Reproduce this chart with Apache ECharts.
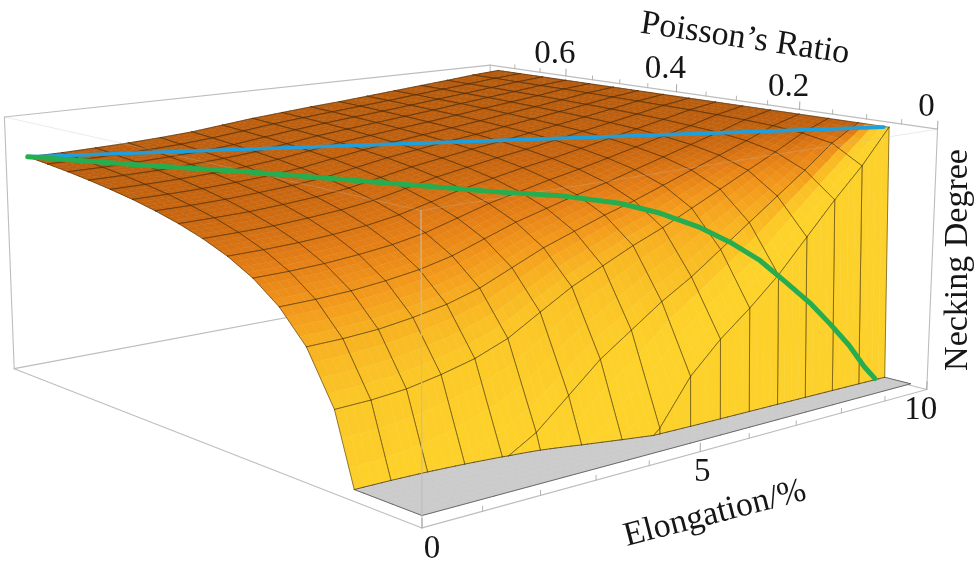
<!DOCTYPE html>
<html>
<head>
<meta charset="utf-8">
<title>Necking Degree surface</title>
<script src="https://cdn.jsdelivr.net/npm/echarts@6.0.0/dist/echarts.min.js"></script>
<style>
html,body{margin:0;padding:0;background:#ffffff;}
#chart{width:978px;height:566px;}
</style>
</head>
<body>
<div id="chart"></div>
<script>
// ---------------- data ----------------
const elongation = [0,0.6,1.2,1.8,2.4,3.0,3.6,4.2,4.8,5.4,6.0,6.6,7.2,7.8,8.4,9.0,9.6];
const poisson = [0,0.04375,0.0875,0.13125,0.175,0.21875,0.2625,0.30625,0.35,0.39375,0.4375,0.48125,0.525,0.56875,0.6125,0.65625,0.7];
// necking degree (axis units 0..1): one row per Poisson's ratio, one value per elongation
const neckingRow00 = [-5,-5,-5,-5,-5,-5,-5,-5,-5,-5,-5,-5,-5,-5,-5,-5,-5];
const neckingRow01 = [-1.1,-1.0,-0.9,-0.7,-0.5,-0.3,-0.15,-0.04,0.06,0.22,0.33,0.42,0.52,0.64,0.76,0.87,1.0];
const neckingRow02 = [-0.074,-0.069,-0.052,-0.017,0.029,0.097,0.200,0.303,0.383,0.463,0.531,0.611,0.691,0.771,0.851,0.937,1.0];
const neckingRow03 = [0.284,0.288,0.299,0.322,0.352,0.398,0.467,0.535,0.589,0.642,0.688,0.741,0.794,0.848,0.901,0.958,1.0];
const neckingRow04 = [0.463,0.466,0.474,0.491,0.514,0.549,0.600,0.651,0.691,0.731,0.766,0.806,0.846,0.886,0.926,0.969,1.0];
const neckingRow05 = [0.570,0.573,0.580,0.593,0.611,0.639,0.680,0.721,0.753,0.785,0.813,0.845,0.877,0.909,0.941,0.975,1.0];
const neckingRow06 = [0.642,0.644,0.650,0.661,0.676,0.699,0.733,0.768,0.794,0.821,0.844,0.870,0.897,0.924,0.950,0.979,1.0];
const neckingRow07 = [0.693,0.695,0.700,0.709,0.722,0.742,0.771,0.801,0.824,0.847,0.866,0.889,0.912,0.935,0.958,0.982,1.0];
const neckingRow08 = [0.731,0.733,0.737,0.746,0.757,0.774,0.800,0.826,0.846,0.866,0.883,0.903,0.923,0.943,0.963,0.984,1.0];
const neckingRow09 = [0.761,0.763,0.766,0.774,0.784,0.799,0.822,0.845,0.863,0.881,0.896,0.914,0.931,0.949,0.967,0.986,1.0];
const neckingRow10 = [0.785,0.786,0.790,0.797,0.806,0.819,0.840,0.861,0.877,0.893,0.906,0.922,0.938,0.954,0.970,0.987,1.0];
const neckingRow11 = [0.805,0.806,0.809,0.815,0.823,0.836,0.855,0.873,0.888,0.902,0.915,0.929,0.944,0.958,0.973,0.989,1.0];
const neckingRow12 = [0.821,0.822,0.825,0.830,0.838,0.850,0.867,0.884,0.897,0.910,0.922,0.935,0.949,0.962,0.975,0.990,1.0];
const neckingRow13 = [0.835,0.836,0.838,0.844,0.851,0.861,0.877,0.893,0.905,0.917,0.928,0.940,0.953,0.965,0.977,0.990,1.0];
const neckingRow14 = [0.847,0.847,0.850,0.855,0.861,0.871,0.886,0.900,0.912,0.923,0.933,0.944,0.956,0.967,0.979,0.991,1.0];
const neckingRow15 = [0.857,0.858,0.860,0.864,0.870,0.880,0.893,0.907,0.918,0.928,0.938,0.948,0.959,0.970,0.980,0.992,1.0];
const neckingRow16 = [0.866,0.866,0.869,0.873,0.879,0.887,0.900,0.913,0.923,0.933,0.941,0.951,0.961,0.971,0.981,0.992,1.0];
const necking = [neckingRow00,neckingRow01,neckingRow02,neckingRow03,neckingRow04,neckingRow05,neckingRow06,neckingRow07,
  neckingRow08,neckingRow09,neckingRow10,neckingRow11,neckingRow12,neckingRow13,neckingRow14,neckingRow15,neckingRow16];

// blue path
const blueElongation = [0, 9.55];
const bluePoisson = [0.7, 0.048];
const blueNecking = [0.866, 1.0];
// green path
const greenElongation = [0, 1.31, 2.5, 4.18, 5.3, 5.98, 6.65, 7.09, 7.54, 7.88, 8.22, 8.51, 8.8, 9.02, 9.24, 9.42, 9.54];
const greenPoisson = [0.7, 0.61, 0.529, 0.414, 0.337, 0.291, 0.246, 0.215, 0.184, 0.161, 0.138, 0.118, 0.098, 0.083, 0.068, 0.056, 0.047];
const greenNecking = [0.866, 0.837, 0.813, 0.771, 0.743, 0.731, 0.703, 0.667, 0.613, 0.557, 0.487, 0.405, 0.320, 0.243, 0.160, 0.077, 0.03];

// axes
const elongationRange = [0, 10];
const poissonRange = [0, 0.75];
const neckingRange = [0, 1];
const neckingClip = 0.04;
const elongationTicks = [0, 5, 10];
const elongationMinorTicks = [1, 2, 3, 4, 6, 7, 8, 9];
const poissonTicks = [0, 0.2, 0.4, 0.6];
const poissonMinorTicks = [0.05, 0.1, 0.15, 0.25, 0.3, 0.35, 0.45, 0.5, 0.55, 0.65, 0.7];
const elongationTickLabels = ['0', '5', '10'];
const poissonTickLabels = ['0', '0.2', '0.4', '0.6'];
const elongationLabelShiftX = [10, 2, -6];

// ---------------- view / projection ----------------
const view = { yaw: 49.6, pitch: 11, focal: 2244, cx: 457, cy: 218,
  offRight: -0.0156, offUp: -0.1381, offDepth: 1, box: [0.358, 0.363, 0.144] };
const ya = view.yaw * Math.PI / 180, pa = view.pitch * Math.PI / 180;
const RV = [Math.sin(ya), -Math.cos(ya), 0];
const FV = [Math.cos(pa) * Math.cos(ya), Math.cos(pa) * Math.sin(ya), -Math.sin(pa)];
const UV = [Math.sin(pa) * Math.cos(ya), Math.sin(pa) * Math.sin(ya), Math.cos(pa)];
const WV = [0, 1, 2].map(k => FV[k] * view.offDepth + RV[k] * view.offRight + UV[k] * view.offUp);
const dot = (a, b) => a[0] * b[0] + a[1] * b[1] + a[2] * b[2];
const lerp = (a, b, t) => a + (b - a) * t;
const SX = view.box[0] / (elongationRange[1] - elongationRange[0]);
const SY = view.box[1] / (poissonRange[1] - poissonRange[0]);
const SZ = view.box[2] / (neckingRange[1] - neckingRange[0]);
function project(e, nu, n) {
  const v = [(e - elongationRange[0]) * SX + WV[0], (nu - poissonRange[0]) * SY + WV[1], (n - neckingRange[0]) * SZ + WV[2]];
  const d = dot(v, FV);
  return { x: view.cx + view.focal * dot(v, RV) / d, y: view.cy - view.focal * dot(v, UV) / d, depth: d };
}

// ---------------- shading ----------------
const shadeStops = [[0, [160, 78, 8]], [0.12, [178, 88, 12]], [0.25, [200, 102, 16]], [0.4, [228, 126, 22]],
  [0.55, [243, 154, 28]], [0.7, [249, 188, 36]], [0.8, [253, 208, 42]], [0.9, [255, 220, 48]], [1, [255, 230, 60]]];
function shade(n) {
  const nx = dot(n, RV), ny = dot(n, UV), nz = -dot(n, FV);
  let d = 0.36 * nx - 0.02 * ny + 0.75 * nz;
  d = Math.max(0, Math.min(1, d));
  for (let k = 1; k < shadeStops.length; k++) {
    if (d <= shadeStops[k][0]) {
      const [t0, c0] = shadeStops[k - 1], [t1, c1] = shadeStops[k];
      const t = (d - t0) / (t1 - t0);
      return 'rgb(' + [0, 1, 2].map(q => Math.round(lerp(c0[q], c1[q], t))).join(',') + ')';
    }
  }
  return 'rgb(255,230,60)';
}

const NE = elongation.length, NV = poisson.length;
const normals = [];
for (let j = 0; j < NV; j++) {
  const row = [];
  for (let i = 0; i < NE; i++) {
    const i0 = Math.max(i - 1, 0), i1 = Math.min(i + 1, NE - 1);
    const j0 = Math.max(j - 1, 0), j1 = Math.min(j + 1, NV - 1);
    const gx = (necking[j][i1] - necking[j][i0]) * SZ / ((elongation[i1] - elongation[i0]) * SX);
    const gy = (necking[j1][i] - necking[j0][i]) * SZ / ((poisson[j1] - poisson[j0]) * SY);
    const L = Math.hypot(gx, gy, 1);
    row.push([-gx / L, -gy / L, 1 / L]);
  }
  normals.push(row);
}

function clipPoly(vs, keepAbove) {
  const out = [], cut = [];
  for (let k = 0; k < vs.length; k++) {
    const A = vs[k], B = vs[(k + 1) % vs.length];
    const inA = keepAbove ? A.z >= neckingClip : A.z < neckingClip;
    const inB = keepAbove ? B.z >= neckingClip : B.z < neckingClip;
    if (inA) out.push(A);
    if (inA !== inB) {
      const t = (neckingClip - A.z) / (B.z - A.z);
      const P = { e: lerp(A.e, B.e, t), nu: lerp(A.nu, B.nu, t), z: neckingClip };
      out.push(P); cut.push(P);
    }
  }
  return { out, cut };
}
function segPart(A, B, keepAbove) {
  const inA = keepAbove ? A.z >= neckingClip : A.z < neckingClip;
  const inB = keepAbove ? B.z >= neckingClip : B.z < neckingClip;
  if (!inA && !inB) return null;
  let P = A, Q = B;
  if (inA !== inB) {
    const t = (neckingClip - A.z) / (B.z - A.z);
    const M = { e: lerp(A.e, B.e, t), nu: lerp(A.nu, B.nu, t), z: neckingClip };
    if (inA) Q = M; else P = M;
  }
  if (!keepAbove) { P = { e: P.e, nu: P.nu, z: neckingClip }; Q = { e: Q.e, nu: Q.nu, z: neckingClip }; }
  return [P, Q];
}
const node = (i, j) => ({ e: elongation[i], nu: poisson[j], z: necking[j][i] });

// ---------------- build the scene (in data space) ----------------
const S = 4;
const cells = [], caps = [];
for (let j = 0; j < NV - 1; j++) {
  for (let i = 0; i < NE - 1; i++) {
    const e0 = elongation[i], e1 = elongation[i + 1], v0 = poisson[j], v1 = poisson[j + 1];
    const z00 = necking[j][i], z10 = necking[j][i + 1], z01 = necking[j + 1][i], z11 = necking[j + 1][i + 1];
    const n00 = normals[j][i], n10 = normals[j][i + 1], n01 = normals[j + 1][i], n11 = normals[j + 1][i + 1];
    const zAt = (u, w) => (1 - u) * (1 - w) * z00 + u * (1 - w) * z10 + (1 - u) * w * z01 + u * w * z11;
    const nAt = (u, w) => {
      const n = [0, 1, 2].map(k => (1 - u) * (1 - w) * n00[k] + u * (1 - w) * n10[k] + (1 - u) * w * n01[k] + u * w * n11[k]);
      const L = Math.hypot(n[0], n[1], n[2]);
      return [n[0] / L, n[1] / L, n[2] / L];
    };
    const polys = [], cuts = [];
    for (let a = 0; a < S; a++) {
      for (let b = 0; b < S; b++) {
        const uv = [[a / S, b / S], [(a + 1) / S, b / S], [(a + 1) / S, (b + 1) / S], [a / S, (b + 1) / S]];
        const vs = uv.map(([u, w]) => ({ e: lerp(e0, e1, u), nu: lerp(v0, v1, w), z: zAt(u, w) }));
        const below = clipPoly(vs, false);
        if (below.out.length >= 3) caps.push(below.out.map(v => ({ e: v.e, nu: v.nu, z: neckingClip })));
        const above = clipPoly(vs, true);
        if (above.out.length >= 3) {
          let dep = 0;
          above.out.forEach(v => { dep += project(v.e, v.nu, v.z).depth; });
          polys.push({ vs: above.out, col: shade(nAt((a + 0.5) / S, (b + 0.5) / S)), dep: dep / above.out.length });
          if (above.cut.length === 2) cuts.push(above.cut);
        }
      }
    }
    polys.sort((p, q) => q.dep - p.dep);
    const edges = [];
    [[node(i, j), node(i + 1, j)], [node(i + 1, j), node(i + 1, j + 1)], [node(i, j + 1), node(i + 1, j + 1)], [node(i, j), node(i, j + 1)]]
      .forEach(([A, B]) => { const s = segPart(A, B, true); if (s) edges.push(s); });
    let depth = 0;
    [[e0, v0, z00], [e1, v0, z10], [e0, v1, z01], [e1, v1, z11]].forEach(([e, v, z]) => {
      depth += project(e, v, Math.max(z, neckingClip)).depth;
    });
    cells.push({ depth: depth / 4, polys, cuts, edges });
  }
}
cells.sort((a, b) => b.depth - a.depth);

// boundary of the clipped floor cap
const capOutline = [];
for (let i = 0; i < NE - 1; i++) {
  [[node(i, 0), node(i + 1, 0)], [node(i, NV - 1), node(i + 1, NV - 1)]].forEach(([A, B]) => {
    const s = segPart(A, B, false); if (s) capOutline.push(s);
  });
}
for (let j = 0; j < NV - 1; j++) {
  [[node(0, j), node(0, j + 1)], [node(NE - 1, j), node(NE - 1, j + 1)]].forEach(([A, B]) => {
    const s = segPart(A, B, false); if (s) capOutline.push(s);
  });
}

const E0 = elongationRange[0], E1 = elongationRange[1], V0 = poissonRange[0], V1 = poissonRange[1];
const Z0 = neckingRange[0], Z1 = neckingRange[1];
const P3 = (e, nu, z) => ({ e, nu, z });
const backEdges = [[P3(E0, V1, Z0), P3(E1, V1, Z0)], [P3(E1, V1, Z0), P3(E1, V0, Z0)], [P3(E1, V1, Z0), P3(E1, V1, Z1)]];
const frontEdges = [[P3(E0, V1, Z0), P3(E0, V1, Z1)], [P3(E0, V0, Z0), P3(E0, V0, Z1)], [P3(E1, V0, Z0), P3(E1, V0, Z1)],
  [P3(E0, V1, Z0), P3(E0, V0, Z0)], [P3(E0, V0, Z0), P3(E1, V0, Z0)], [P3(E0, V1, Z1), P3(E1, V1, Z1)], [P3(E1, V1, Z1), P3(E1, V0, Z1)]];
const faintEdges = [[P3(E0, V1, Z1), P3(E0, V0, Z1)], [P3(E0, V0, Z1), P3(E1, V0, Z1)]];

const FONT = '"Liberation Serif", "Times New Roman", serif';

function renderScene(params, api) {
  const px = (e, nu, n) => { const q = project(e, nu, n); return api.coord([q.x, q.y]); };
  const children = [];
  const addLine = (A, B, stroke, width, opacity) => {
    const p1 = px(A.e, A.nu, A.z), p2 = px(B.e, B.nu, B.z);
    children.push({ type: 'line', silent: true, shape: { x1: p1[0], y1: p1[1], x2: p2[0], y2: p2[1] },
      style: { stroke: stroke, lineWidth: width, opacity: opacity == null ? 1 : opacity, lineCap: 'round' } });
  };
  const addPoly = (vs, fill, stroke, width) => {
    children.push({ type: 'polygon', silent: true, shape: { points: vs.map(v => px(v.e, v.nu, v.z)) },
      style: { fill: fill, stroke: stroke, lineWidth: width, lineJoin: 'round' } });
  };
  const addText = (x, y, text, rot, size) => {
    children.push({ type: 'text', silent: true, x: x, y: y, rotation: rot || 0,
      style: { text: text, fill: '#161616', font: size + 'px ' + FONT, align: 'center', verticalAlign: 'middle',
        textAlign: 'center', textVerticalAlign: 'middle' } });
  };

  backEdges.forEach(([A, B]) => addLine(A, B, '#bdbdbd', 1.1));
  caps.forEach(vs => addPoly(vs, '#cbcbcb', '#cbcbcb', 0.6));
  capOutline.forEach(([A, B]) => addLine(A, B, '#6a6a6a', 1));

  cells.forEach(c => {
    c.polys.forEach(p => addPoly(p.vs, p.col, p.col, 0.5));
    c.cuts.forEach(([A, B]) => addLine(A, B, 'rgba(70,60,45,0.9)', 0.9));
    c.edges.forEach(([A, B]) => addLine(A, B, 'rgba(45,30,10,0.62)', 0.85));
  });

  frontEdges.forEach(([A, B]) => addLine(A, B, '#bdbdbd', 1.1));
  faintEdges.forEach(([A, B]) => addLine(A, B, '#bdbdbd', 1.0, 0.3));

  // ticks
  elongationTicks.forEach(e => addLine(P3(e, V0, Z0), P3(e, V0, Z0 + 0.03), '#a8a8a8', 1));
  elongationMinorTicks.forEach(e => addLine(P3(e, V0, Z0), P3(e, V0, Z0 + 0.017), '#b4b4b4', 1));
  poissonTicks.forEach(v => addLine(P3(E1, v, Z1), P3(E1, v, Z1 + 0.03), '#a8a8a8', 1));
  poissonMinorTicks.forEach(v => addLine(P3(E1, v, Z1), P3(E1, v, Z1 + 0.017), '#b4b4b4', 1));

  // paths
  const bluePts = blueElongation.map((e, k) => px(e, bluePoisson[k], blueNecking[k]));
  children.push({ type: 'polyline', silent: true, shape: { points: bluePts },
    style: { stroke: '#1f9fdc', lineWidth: 3.6, fill: null, lineCap: 'round' } });
  const greenPts = greenElongation.map((e, k) => px(e, greenPoisson[k], greenNecking[k]));
  children.push({ type: 'polyline', silent: true, shape: { points: greenPts },
    style: { stroke: '#25ad4f', lineWidth: 5, fill: null, lineCap: 'round', lineJoin: 'round' } });

  // tick labels
  elongationTicks.forEach((e, k) => { const q = px(e, V0, Z0); addText(q[0] + elongationLabelShiftX[k], q[1] + 21, elongationTickLabels[k], 0, 33); });
  poissonTicks.forEach((v, k) => { const q = px(E1, v, Z1); addText(q[0] - 11, q[1] - 22, poissonTickLabels[k], 0, 33); });

  // axis titles
  addText(745, 39, 'Poisson\u2019s Ratio', -8.4 * Math.PI / 180, 34);
  addText(715, 514, 'Elongation/%', 14.5 * Math.PI / 180, 34);
  addText(958, 260, 'Necking Degree', Math.PI / 2, 34);

  return { type: 'group', children: children };
}

const chart = echarts.init(document.getElementById('chart'), null, { renderer: 'canvas' });
chart.setOption({
  backgroundColor: '#ffffff',
  animation: false,
  grid: { left: 0, right: 0, top: 0, bottom: 0 },
  xAxis: { type: 'value', min: 0, max: 978, show: false },
  yAxis: { type: 'value', min: 0, max: 566, inverse: true, show: false },
  series: [{ type: 'custom', coordinateSystem: 'cartesian2d', renderItem: renderScene, data: [[0, 0]],
    animation: false, clip: false, silent: true }]
});
</script>
</body>
</html>
